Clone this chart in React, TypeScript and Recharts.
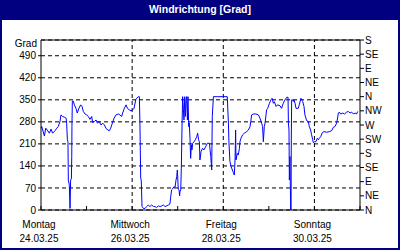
import React from "react";
import {
  LineChart,
  Line,
  XAxis,
  YAxis,
  CartesianGrid,
  ReferenceLine,
} from "recharts";

// hours since Monday 24.03.25 00:00
const hours = [
  0, 0.4, 1.8, 2.5, 3.3, 4.4, 5.3, 6.1, 7.4, 8.3, 9.1, 10.0, 10.5, 11.4, 12.3,
  13.2, 13.5, 13.9, 14.2, 14.4, 14.9, 15.3, 15.6, 16.0, 16.2, 16.3, 16.5, 16.9,
  17.6, 18.4, 19.1, 20.0, 20.9, 21.6, 22.3, 23.2, 24.1, 24.9, 25.8, 26.7, 27.2,
  28.1, 29.0, 29.7, 30.7, 31.6, 32.5, 33.4, 34.2, 35.1, 36.0, 36.7, 37.6, 38.5,
  39.5, 40.7, 41.6, 42.5, 43.0, 43.9, 44.8, 45.5, 46.5, 47.4, 48.3, 49.0, 49.9,
  50.4, 51.3, 51.8, 52.1, 52.5, 52.8, 53.2, 53.9, 54.8, 55.7, 56.5, 57.4, 58.3,
  59.2, 60.0, 60.9, 61.8, 62.7, 63.6, 64.4, 65.3, 66.2, 67.1, 67.9, 68.3, 68.8,
  69.3, 70.0, 70.6, 71.1, 71.5, 71.8, 72.3, 72.7, 73.0, 73.2, 73.6, 73.9, 74.3,
  74.6, 75.0, 75.3, 75.7, 76.0, 76.4, 76.7, 77.1, 77.4, 77.8, 78.1, 78.5, 78.8,
  79.2, 79.5, 79.9, 80.6, 81.3, 82.0, 82.5, 83.0, 83.4, 83.7, 84.3, 85.1, 85.8,
  86.7, 87.6, 88.7, 89.4, 89.9, 90.2, 90.8, 93.0, 95.5, 98.1, 98.7, 99.0, 99.5,
  100.1, 100.8, 101.3, 101.8, 102.2, 102.5, 102.7, 103.4, 103.9, 104.5, 104.8,
  105.3, 106.2, 107.1, 108.3, 109.2, 110.1, 110.6, 110.9, 111.8, 113.2, 114.5,
  115.3, 116.2, 116.7, 117.1, 117.6, 118.0, 118.5, 118.8, 119.4, 120.3, 121.1,
  121.7, 122.4, 122.9, 123.8, 124.6, 125.9, 126.7, 127.6, 128.5, 129.4, 130.1,
  130.3, 130.6, 130.8, 131.1, 131.5, 131.7, 131.8, 132.0, 132.5, 132.9, 133.2,
  133.8, 134.3, 135.5, 136.0, 136.9, 137.3, 137.8, 138.5, 139.0, 139.9, 140.8,
  141.3, 142.0, 142.5, 143.1, 143.4, 144.1, 144.8, 145.5, 146.1, 146.6, 147.3,
  148.2, 149.0, 150.4, 151.9, 153.1, 154.0, 154.8, 155.7, 156.2, 156.6, 157.1,
  157.8, 158.9, 159.8, 161.0, 161.9, 162.7, 163.6, 164.5, 165.4, 166.2, 166.8,
];

const degrees = [
  260, 265, 235, 260, 254, 244, 257, 244, 252, 260, 265, 281, 302, 297, 295,
  292, 276, 223, 217, 95, 80, 5, 95, 99, 170, 265, 345, 347,
  334, 323, 308, 323, 334, 329, 313, 305, 302, 297, 288, 297, 278,
  281, 286, 276, 281, 270, 276, 270, 260, 254, 252, 260, 276, 292,
  302, 305, 302, 297, 308, 323, 334, 323, 318, 315, 318, 323, 350,
  355, 360, 360, 276, 101, 95, 11, 5, 5, 11, 16, 11, 16,
  11, 11, 8, 13, 11, 13, 16, 11, 13, 16, 19, 42, 64,
  67, 74, 72, 95, 106, 127, 66, 64, 45, 58, 64, 133, 276,
  360, 318, 286, 360, 297, 350, 360, 286, 360, 265, 276, 223, 164,
  207, 191, 212, 217, 223, 233, 244, 223, 217, 159, 186, 196, 191,
  201, 212, 212, 170, 127, 297, 360, 360, 360, 360, 276, 212, 154,
  138, 127, 119, 111, 159, 254, 159, 180, 175, 196, 217,
  228, 239, 244, 249, 254, 265, 286, 302, 305, 305, 302,
  292, 276, 265, 217, 265, 276, 302, 318, 323, 339, 350,
  355, 339, 344, 329, 334, 331, 323, 339, 350, 358, 358,
  276, 254, 95, 170, 0, 0, 200, 350, 350, 345, 350,
  339, 323, 323, 334, 355, 350, 345, 329, 302, 284, 281,
  265, 254, 239, 223, 214, 217, 217, 228, 223, 228, 233,
  246, 249, 247, 249, 252, 263, 265, 276, 292, 308, 311,
  305, 308, 305, 311, 313, 308, 311, 305, 308, 305, 313,
];

const dayTicks = [0, 24, 48, 72, 96, 120, 144, 168];
const labelHours = [0, 48, 96, 144];
const dayNames = ["Montag", "Mittwoch", "Freitag", "Sonntag"];
const dayDates = ["24.03.25", "26.03.25", "28.03.25", "30.03.25"];
const gradTicks = [0, 70, 140, 210, 280, 350, 420, 490];
const compassTicks = [0, 45, 90, 135, 180, 225, 270, 315, 360, 405, 450, 495, 540];
const compassLabels = ["N", "NE", "E", "SE", "S", "SW", "W", "NW", "N", "NE", "E", "SE", "S"];

const data = hours.map((h, i) => ({ h, deg: degrees[i] }));

const NAVY = "#000080";
const FONT = "'Liberation Sans', Arial, sans-serif";

function DayTick({ x, y, payload }: any) {
  const idx = labelHours.indexOf(payload.value);
  return (
    <g>
      <line x1={x} y1={y} x2={x} y2={y - 4} stroke="#000" />
      {idx >= 0 && (
        <>
          <text x={x - 2} y={y + 18} textAnchor="middle" fontSize={10} fontFamily={FONT} fill="#000">
            {dayNames[idx]}
          </text>
          <text x={x - 2} y={y + 32} textAnchor="middle" fontSize={10} fontFamily={FONT} fill="#000">
            {dayDates[idx]}
          </text>
        </>
      )}
    </g>
  );
}

export default function App() {
  return (
    <div
      style={{
        position: "absolute",
        left: 0,
        top: 0,
        width: 400,
        height: 250,
        background: "#fff",
        fontFamily: FONT,
      }}
    >
      <LineChart
        width={400}
        height={250}
        data={data}
        margin={{ top: 40, right: 0, bottom: 0, left: 0 }}
      >
        <CartesianGrid
          yAxisId="left"
          vertical={false}
          stroke="#000"
          strokeDasharray="4 3"
        />
        {[48, 96, 144].map((v) => (
          <ReferenceLine
            key={v}
            x={v}
            yAxisId="left"
            stroke="#000"
            strokeDasharray="4 3"
          />
        ))}
        <ReferenceLine y={540} yAxisId="left" stroke="#000" />
        <XAxis
          dataKey="h"
          type="number"
          domain={[0, 168]}
          ticks={dayTicks}
          interval={0}
          height={40}
          tickSize={0}
          tickMargin={0}
          tickLine={false}
          axisLine={{ stroke: "#000" }}
          tick={<DayTick />}
        />
        <YAxis
          yAxisId="left"
          type="number"
          domain={[0, 540]}
          ticks={gradTicks}
          interval={0}
          allowDataOverflow
          width={41}
          tickSize={3}
          tickMargin={2}
          axisLine={{ stroke: "#000" }}
          tickLine={{ stroke: "#000" }}
          tick={{ fill: "#000", fontSize: 10, fontFamily: FONT }}
        />
        <YAxis
          yAxisId="right"
          orientation="right"
          type="number"
          domain={[0, 540]}
          ticks={compassTicks}
          interval={0}
          allowDataOverflow
          width={40}
          tickSize={4}
          tickMargin={1}
          tickFormatter={(v: number) => compassLabels[Math.round(v / 45)]}
          axisLine={{ stroke: "#000" }}
          tickLine={{ stroke: "#000" }}
          tick={{ fill: "#000", fontSize: 10, fontFamily: FONT, textAnchor: "start" }}
        />
        <Line
          yAxisId="left"
          dataKey="deg"
          type="linear"
          stroke="#0000ff"
          strokeWidth={1}
          dot={false}
          isAnimationActive={false}
        />
      </LineChart>
      <div
        style={{
          position: "absolute",
          left: 0,
          top: 0,
          width: 400,
          height: 20,
          background: NAVY,
          color: "#fff",
          fontWeight: "bold",
          fontSize: 10.5,
          lineHeight: "18px",
          textAlign: "center",
        }}
      >
        Windrichtung [Grad]
      </div>
      <div
        style={{
          position: "absolute",
          left: 0,
          top: 39,
          width: 37,
          textAlign: "right",
          fontSize: 10,
          lineHeight: "10px",
          color: "#000",
        }}
      >
        Grad
      </div>
      <div
        style={{
          position: "absolute",
          left: 0,
          top: 0,
          width: 400,
          height: 250,
          boxSizing: "border-box",
          border: `2px solid ${NAVY}`,
          pointerEvents: "none",
        }}
      />
    </div>
  );
}
